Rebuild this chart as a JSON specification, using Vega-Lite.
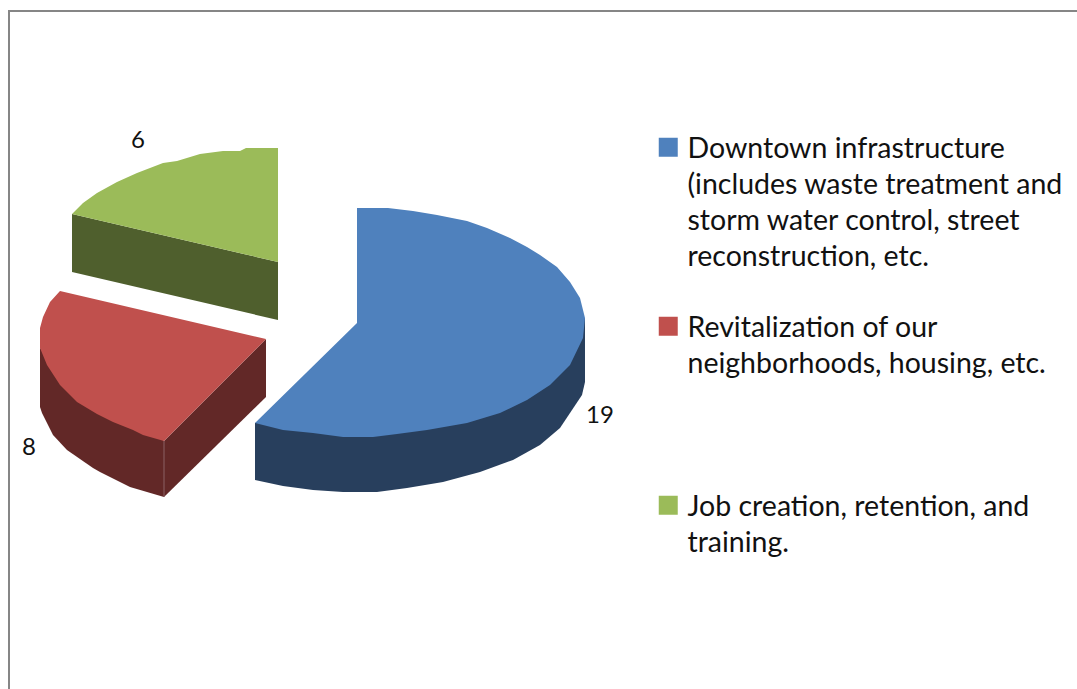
{
"$schema":"https://vega.github.io/schema/vega-lite/v6.json",
"width":1077,"height":689,"padding":0,"autosize":{"type":"none"},"background":"white",
"datasets":{
"tops":[
{"category":"Downtown","face":"blue top","ord":1,"px":357,"py":208},{"category":"Downtown","face":"blue top","ord":2,"px":388,"py":208},{"category":"Downtown","face":"blue top","ord":3,"px":413,"py":211},{"category":"Downtown","face":"blue top","ord":4,"px":437,"py":215},{"category":"Downtown","face":"blue top","ord":5,"px":467,"py":221},{"category":"Downtown","face":"blue top","ord":6,"px":487,"py":228},{"category":"Downtown","face":"blue top","ord":7,"px":510,"py":238},{"category":"Downtown","face":"blue top","ord":8,"px":527,"py":247},{"category":"Downtown","face":"blue top","ord":9,"px":540,"py":255},{"category":"Downtown","face":"blue top","ord":10,"px":557,"py":267},{"category":"Downtown","face":"blue top","ord":11,"px":570,"py":282},{"category":"Downtown","face":"blue top","ord":12,"px":580,"py":298},{"category":"Downtown","face":"blue top","ord":13,"px":585,"py":318},{"category":"Downtown","face":"blue top","ord":14,"px":583,"py":338},{"category":"Downtown","face":"blue top","ord":15,"px":570,"py":365},{"category":"Downtown","face":"blue top","ord":16,"px":550,"py":385},{"category":"Downtown","face":"blue top","ord":17,"px":527,"py":400},{"category":"Downtown","face":"blue top","ord":18,"px":500,"py":413},{"category":"Downtown","face":"blue top","ord":19,"px":467,"py":423},{"category":"Downtown","face":"blue top","ord":20,"px":427,"py":430},{"category":"Downtown","face":"blue top","ord":21,"px":397,"py":434},{"category":"Downtown","face":"blue top","ord":22,"px":373,"py":437},{"category":"Downtown","face":"blue top","ord":23,"px":343,"py":437},{"category":"Downtown","face":"blue top","ord":24,"px":313,"py":433},{"category":"Downtown","face":"blue top","ord":25,"px":283,"py":430},{"category":"Downtown","face":"blue top","ord":26,"px":255,"py":423},{"category":"Downtown","face":"blue top","ord":27,"px":357,"py":323},
{"category":"Revitalization","face":"red top","ord":1,"px":60,"py":291},{"category":"Revitalization","face":"red top","ord":2,"px":266,"py":339},{"category":"Revitalization","face":"red top","ord":3,"px":164,"py":441},{"category":"Revitalization","face":"red top","ord":4,"px":143,"py":435},{"category":"Revitalization","face":"red top","ord":5,"px":133,"py":430},{"category":"Revitalization","face":"red top","ord":6,"px":113,"py":422},{"category":"Revitalization","face":"red top","ord":7,"px":97,"py":414},{"category":"Revitalization","face":"red top","ord":8,"px":77,"py":402},{"category":"Revitalization","face":"red top","ord":9,"px":60,"py":385},{"category":"Revitalization","face":"red top","ord":10,"px":47,"py":365},{"category":"Revitalization","face":"red top","ord":11,"px":40,"py":348},{"category":"Revitalization","face":"red top","ord":12,"px":40,"py":328},{"category":"Revitalization","face":"red top","ord":13,"px":43,"py":317},{"category":"Revitalization","face":"red top","ord":14,"px":50,"py":302},
{"category":"Job","face":"green top","ord":1,"px":278,"py":148},{"category":"Job","face":"green top","ord":2,"px":278,"py":262},{"category":"Job","face":"green top","ord":3,"px":72,"py":214},{"category":"Job","face":"green top","ord":4,"px":83,"py":203},{"category":"Job","face":"green top","ord":5,"px":97,"py":193},{"category":"Job","face":"green top","ord":6,"px":117,"py":182},{"category":"Job","face":"green top","ord":7,"px":137,"py":173},{"category":"Job","face":"green top","ord":8,"px":163,"py":163},{"category":"Job","face":"green top","ord":9,"px":177,"py":161},{"category":"Job","face":"green top","ord":10,"px":200,"py":154},{"category":"Job","face":"green top","ord":11,"px":223,"py":151},{"category":"Job","face":"green top","ord":12,"px":240,"py":151},{"category":"Job","face":"green top","ord":13,"px":246,"py":148}
],
"sides":[
{"category":"Downtown","face":"blue side","ord":1,"px":255,"py":423},{"category":"Downtown","face":"blue side","ord":2,"px":255,"py":480},{"category":"Downtown","face":"blue side","ord":3,"px":283,"py":486},{"category":"Downtown","face":"blue side","ord":4,"px":313,"py":490},{"category":"Downtown","face":"blue side","ord":5,"px":343,"py":492},{"category":"Downtown","face":"blue side","ord":6,"px":377,"py":492},{"category":"Downtown","face":"blue side","ord":7,"px":407,"py":488},{"category":"Downtown","face":"blue side","ord":8,"px":443,"py":482},{"category":"Downtown","face":"blue side","ord":9,"px":480,"py":472},{"category":"Downtown","face":"blue side","ord":10,"px":513,"py":460},{"category":"Downtown","face":"blue side","ord":11,"px":540,"py":445},{"category":"Downtown","face":"blue side","ord":12,"px":560,"py":428},{"category":"Downtown","face":"blue side","ord":13,"px":582,"py":395},{"category":"Downtown","face":"blue side","ord":14,"px":585,"py":382},{"category":"Downtown","face":"blue side","ord":15,"px":585,"py":318},
{"category":"Revitalization","face":"red outer side","ord":1,"px":40,"py":348},{"category":"Revitalization","face":"red outer side","ord":2,"px":164,"py":441},{"category":"Revitalization","face":"red outer side","ord":3,"px":164,"py":497},{"category":"Revitalization","face":"red outer side","ord":4,"px":130,"py":487},{"category":"Revitalization","face":"red outer side","ord":5,"px":100,"py":472},{"category":"Revitalization","face":"red outer side","ord":6,"px":93,"py":468},{"category":"Revitalization","face":"red outer side","ord":7,"px":67,"py":450},{"category":"Revitalization","face":"red outer side","ord":8,"px":53,"py":435},{"category":"Revitalization","face":"red outer side","ord":9,"px":42,"py":413},{"category":"Revitalization","face":"red outer side","ord":10,"px":40,"py":407},
{"category":"Revitalization","face":"red inner side","ord":1,"px":266,"py":339},{"category":"Revitalization","face":"red inner side","ord":2,"px":164,"py":441},{"category":"Revitalization","face":"red inner side","ord":3,"px":164,"py":497},{"category":"Revitalization","face":"red inner side","ord":4,"px":266,"py":397},
{"category":"Job","face":"green side","ord":1,"px":72,"py":214},{"category":"Job","face":"green side","ord":2,"px":278,"py":262},{"category":"Job","face":"green side","ord":3,"px":278,"py":320},{"category":"Job","face":"green side","ord":4,"px":72,"py":272}
],
"labels":[
{"count":19,"px":600,"py":416},{"count":8,"px":29,"py":448},{"count":6,"px":138,"py":141}
],
"frame":[
{"edge":"left","px":9,"px2":9,"py":10,"py2":689},
{"edge":"top","px":8,"px2":1077,"py":11,"py2":11}
],
"edges":[
{"edge":"red corner","px":164,"px2":164,"py":441,"py2":497}
]
},
"encoding":{
"x":{"field":"px","type":"quantitative","scale":{"domain":[0,1077],"nice":false,"zero":false},"axis":null},
"y":{"field":"py","type":"quantitative","scale":{"domain":[689,0],"nice":false,"zero":false},"axis":null}
},
"layer":[
{"data":{"name":"frame"},"mark":{"type":"rule","color":"#868686","strokeWidth":2},
 "encoding":{"x2":{"field":"px2"},"y2":{"field":"py2"}}},
{"data":{"name":"sides"},"mark":{"type":"line","filled":true,"strokeWidth":0},
 "encoding":{"order":{"field":"ord","type":"quantitative"},"detail":{"field":"face"},
  "color":{"field":"category","type":"nominal","legend":null,"scale":{"domain":["Downtown","Revitalization","Job"],"range":["#283F5D","#622827","#4F5F2D"]}}}},
{"data":{"name":"edges"},"mark":{"type":"rule","color":"#8A6064","strokeWidth":1},
 "encoding":{"x2":{"field":"px2"},"y2":{"field":"py2"}}},
{"data":{"name":"tops"},"mark":{"type":"line","filled":true,"strokeWidth":0},
 "encoding":{"order":{"field":"ord","type":"quantitative"},"detail":{"field":"face"},
  "color":{"field":"category","type":"nominal","scale":{"domain":["Downtown","Revitalization","Job"],"range":["#4F81BD","#C0504D","#9BBB59"]},
   "legend":{"title":null,"orient":"none","legendX":654,"legendY":133,"padding":0,"symbolType":"square","symbolSize":361,"symbolStrokeWidth":0,"symbolOpacity":1,"labelFont":"Lato","labelFontSize":28.5,"labelColor":"#111111","labelLimit":500,"labelBaseline":"top","labelOffset":5,"rowPadding":4,"columnPadding":0,
    "labelExpr":"datum.label=='Downtown'?['Downtown infrastructure','(includes waste treatment and','storm water control, street','reconstruction, etc.','']:datum.label=='Revitalization'?['Revitalization of our','neighborhoods, housing, etc.','','','']:['Job creation, retention, and','training.']",
    "encode":{"labels":{"update":{"lineHeight":{"value":36},"dy":{"value":-12}}}}}}}},
{"data":{"name":"labels"},"mark":{"type":"text","font":"Lato","fontSize":24,"color":"#111111"},
 "encoding":{"text":{"field":"count","type":"quantitative"}}}
],
"resolve":{"scale":{"color":"independent"}},
"config":{"view":{"stroke":null}}
}
